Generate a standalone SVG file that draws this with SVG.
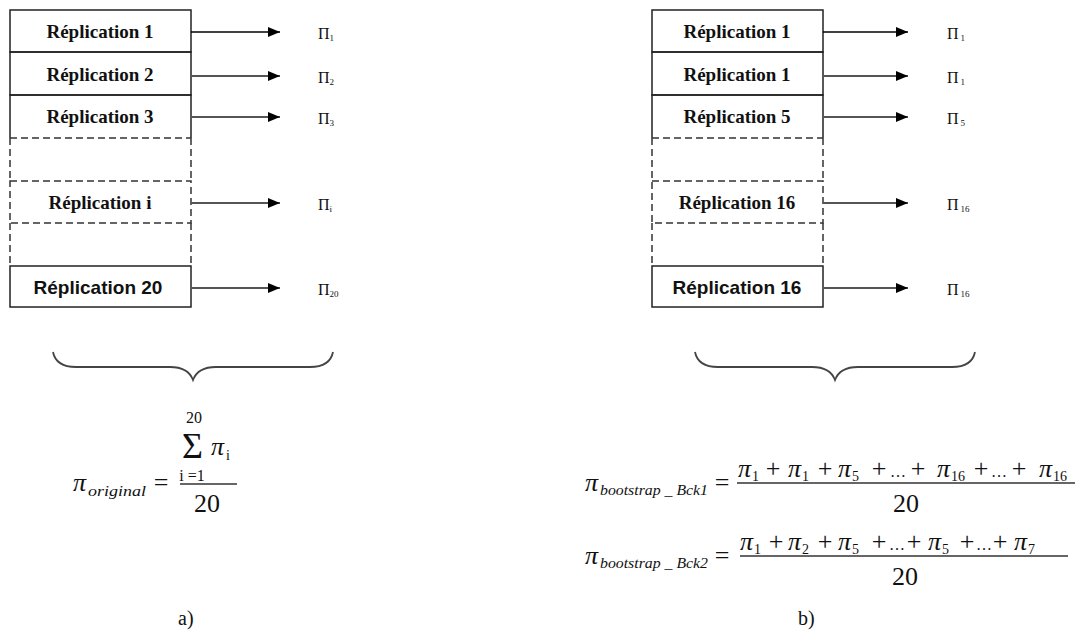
<svg xmlns="http://www.w3.org/2000/svg" width="1078" height="633" viewBox="0 0 1078 633">
<style>
.box{fill:none;stroke:#222;stroke-width:1.5}
.dash{fill:none;stroke:#333;stroke-width:1.5;stroke-dasharray:7,4}
.lbl{font-family:"Liberation Serif",serif;font-weight:bold;font-size:19px;text-anchor:middle;fill:#111}
.lbls{font-family:"Liberation Sans",sans-serif;font-weight:bold;font-size:19px;text-anchor:middle;fill:#111}
.pi{font-family:"Liberation Serif",serif;font-size:16px;fill:#111}
.pis{font-size:9px}
.arr1{stroke:#000;stroke-width:1.5;fill:none}
.arr{stroke:#555;stroke-width:2;fill:none}
.brace{fill:none;stroke:#444;stroke-width:1.8}
.m{font-family:"Liberation Serif",serif;font-size:26px;fill:#111}
.mc{text-anchor:middle}
.mi{font-family:"Liberation Serif",serif;font-style:italic;font-size:26px;fill:#111}
.sub{font-family:"Liberation Serif",serif;font-size:14px;fill:#111}
.subi{font-family:"Liberation Serif",serif;font-style:italic;font-size:14px;fill:#111}
.big{font-family:"Liberation Serif",serif;font-size:36px;fill:#111}
.lim{font-family:"Liberation Serif",serif;font-size:16px;fill:#111;text-anchor:middle}
.ell{font-family:"Liberation Serif",serif;font-size:16px;fill:#111;text-anchor:middle}
.fl{stroke:#333;stroke-width:1.6}
.cap{font-family:"Liberation Serif",serif;font-size:20px;fill:#111}
</style>
<defs>
<marker id="ah" markerUnits="userSpaceOnUse" markerWidth="13" markerHeight="10" refX="12" refY="5" orient="auto">
<path d="M0,0 L12,5 L0,10 Z" fill="#000"/>
</marker>
</defs>

<!-- Left column -->
<g id="left-r1"><rect class="box" x="10" y="10" width="181" height="42"/><text class="lbl" x="100" y="38">Réplication 1</text></g>
<g id="left-r2"><rect class="box" x="10" y="52" width="181" height="43"/><text class="lbl" x="100" y="81">Réplication  2</text></g>
<g id="left-r3"><path class="box" d="M10,138 V95 H191 V138"/><path class="dash" d="M10,138 H191"/><text class="lbl" x="100" y="123">Réplication 3</text></g>
<g id="left-gap1"><path class="dash" d="M10,138 V181 M191,138 V181"/></g>
<g id="left-ri"><rect class="dash" x="10" y="181" width="181" height="42"/><text class="lbl" x="100" y="209">Réplication i</text></g>
<g id="left-gap2"><path class="dash" d="M10,223 V266 M191,223 V266"/></g>
<g id="left-r20"><rect class="box" x="10" y="266" width="181" height="41"/><text class="lbls" x="98" y="294">Réplication 20</text></g>

<!-- Right column -->
<g id="right-r1"><rect class="box" x="652" y="10" width="171" height="42"/><text class="lbl" x="737" y="38">Réplication 1</text></g>
<g id="right-r2"><rect class="box" x="652" y="52" width="171" height="43"/><text class="lbl" x="737" y="81">Réplication 1</text></g>
<g id="right-r3"><path class="box" d="M652,138 V95 H823 V138"/><path class="dash" d="M652,138 H823"/><text class="lbl" x="737" y="123">Réplication 5</text></g>
<g id="right-gap1"><path class="dash" d="M652,138 V181 M823,138 V181"/></g>
<g id="right-ri"><rect class="dash" x="652" y="181" width="171" height="42"/><text class="lbl" x="737" y="209">Réplication 16</text></g>
<g id="right-gap2"><path class="dash" d="M652,223 V266 M823,223 V266"/></g>
<g id="right-r20"><rect class="box" x="652" y="266" width="171" height="41"/><text class="lbls" x="737" y="294">Réplication 16</text></g>

<!-- Connectors -->
<g id="connectors">
<line class="arr1" x1="191" y1="32" x2="280" y2="32" marker-end="url(#ah)"/>
<line class="arr" x1="191" y1="76" x2="280" y2="76" marker-end="url(#ah)"/>
<line class="arr" x1="191" y1="117" x2="280" y2="117" marker-end="url(#ah)"/>
<line class="arr" x1="191" y1="203" x2="280" y2="203" marker-end="url(#ah)"/>
<line class="arr" x1="191" y1="288" x2="280" y2="288" marker-end="url(#ah)"/>
<line class="arr1" x1="823" y1="32" x2="908" y2="32" marker-end="url(#ah)"/>
<line class="arr" x1="823" y1="76" x2="908" y2="76" marker-end="url(#ah)"/>
<line class="arr" x1="823" y1="117" x2="908" y2="117" marker-end="url(#ah)"/>
<line class="arr" x1="823" y1="203" x2="908" y2="203" marker-end="url(#ah)"/>
<line class="arr" x1="823" y1="288" x2="908" y2="288" marker-end="url(#ah)"/>
</g>

<!-- Pi labels -->
<g id="pi-left">
<text class="pi" x="318" y="39">Π<tspan class="pis" dy="2">1</tspan></text>
<text class="pi" x="318" y="83">Π<tspan class="pis" dy="2">2</tspan></text>
<text class="pi" x="318" y="124">Π<tspan class="pis" dy="2">3</tspan></text>
<text class="pi" x="318" y="210">Π<tspan class="pis" dy="2">i</tspan></text>
<text class="pi" x="318" y="295">Π<tspan class="pis" dy="2">20</tspan></text>
</g>
<g id="pi-right">
<text class="pi" x="947" y="39">Π<tspan class="pis" dx="2" dy="2">1</tspan></text>
<text class="pi" x="947" y="83">Π<tspan class="pis" dx="2" dy="2">1</tspan></text>
<text class="pi" x="947" y="124">Π<tspan class="pis" dx="2" dy="2">5</tspan></text>
<text class="pi" x="947" y="210">Π<tspan class="pis" dx="2" dy="2">16</tspan></text>
<text class="pi" x="947" y="295">Π<tspan class="pis" dx="2" dy="2">16</tspan></text>
</g>

<!-- Braces -->
<path class="brace" d="M53,352 C55,362 63,367 76,367 L170,367 C183,367 190,372 193,380 C196,372 203,367 216,367 L310,367 C323,367 331,362 333,352"/>
<path class="brace" d="M695,352 C697,362 705,367 718,367 L812,367 C825,367 832,372 835,380 C838,372 845,367 858,367 L952,367 C965,367 973,362 975,352"/>

<!-- Left formula -->
<g id="formula-a">
<text class="mi" x="73" y="491">π</text>
<text class="subi" x="88" y="496" textLength="58" lengthAdjust="spacingAndGlyphs">original</text>
<text class="m mc" x="161" y="491">=</text>
<text class="lim" x="194" y="423">20</text>
<text class="big" x="182" y="458">Σ</text>
<text class="mi" x="211" y="455">π</text>
<text class="sub" x="226" y="460">i</text>
<text class="lim" x="192" y="481">i =1</text>
<line class="fl" x1="180" y1="484" x2="237" y2="484"/>
<text class="m mc" x="207" y="512">20</text>
</g>
<text class="cap" x="178" y="625">a)</text>

<!-- Right formulas -->
<g id="formula-b1">
<text class="mi" x="585" y="491">π</text>
<text class="subi" x="600" y="495" textLength="108" lengthAdjust="spacingAndGlyphs">bootstrap _ Bck1</text>
<text class="m mc" x="722" y="491">=</text>
<text class="mi" x="738" y="477">π</text><text class="sub" x="752" y="481">1</text>
<text class="m mc" x="773" y="477">+</text>
<text class="mi" x="788" y="477">π</text><text class="sub" x="802" y="481">1</text>
<text class="m mc" x="825" y="477">+</text>
<text class="mi" x="838" y="477">π</text><text class="sub" x="852" y="481">5</text>
<text class="m mc" x="879" y="477">+</text>
<text class="ell" x="898" y="477">…</text>
<text class="m mc" x="918" y="477">+</text>
<text class="mi" x="937" y="477">π</text><text class="sub" x="951" y="481">16</text>
<text class="m mc" x="981" y="477">+</text>
<text class="ell" x="999" y="477">…</text>
<text class="m mc" x="1019" y="477">+</text>
<text class="mi" x="1039" y="477">π</text><text class="sub" x="1053" y="481">16</text>
<line class="fl" x1="737" y1="483" x2="1075" y2="483"/>
<text class="m mc" x="906" y="512">20</text>
</g>
<g id="formula-b2">
<text class="mi" x="585" y="564">π</text>
<text class="subi" x="600" y="568" textLength="108" lengthAdjust="spacingAndGlyphs">bootstrap _ Bck2</text>
<text class="m mc" x="722" y="564">=</text>
<text class="mi" x="740" y="550">π</text><text class="sub" x="754" y="554">1</text>
<text class="m mc" x="776" y="550">+</text>
<text class="mi" x="788" y="550">π</text><text class="sub" x="802" y="554">2</text>
<text class="m mc" x="825" y="550">+</text>
<text class="mi" x="838" y="550">π</text><text class="sub" x="852" y="554">5</text>
<text class="m mc" x="879" y="550">+</text>
<text class="ell" x="897" y="550">…</text>
<text class="m mc" x="914" y="550">+</text>
<text class="mi" x="928" y="550">π</text><text class="sub" x="942" y="554">5</text>
<text class="m mc" x="967" y="550">+</text>
<text class="ell" x="984" y="550">…</text>
<text class="m mc" x="1000" y="550">+</text>
<text class="mi" x="1014" y="550">π</text><text class="sub" x="1028" y="554">7</text>
<line class="fl" x1="740" y1="556" x2="1068" y2="556"/>
<text class="m mc" x="905" y="585">20</text>
</g>
<text class="cap" x="798" y="625">b)</text>
</svg>
